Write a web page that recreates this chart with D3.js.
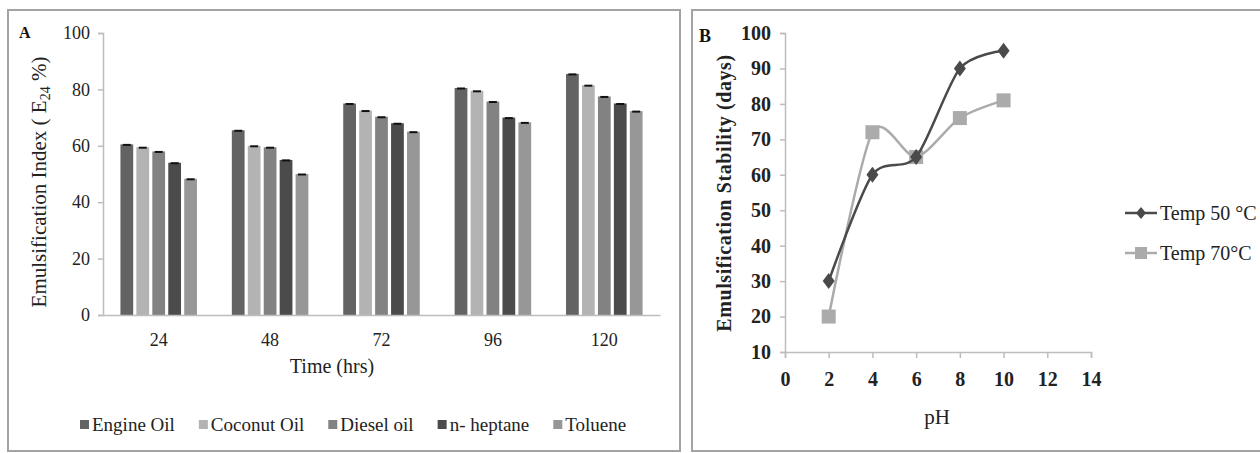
<!DOCTYPE html>
<html>
<head>
<meta charset="utf-8">
<script src="https://cdn.jsdelivr.net/npm/d3@7"></script>
<style>
  body { margin: 0; background: #fff; }
</style>
</head>
<body>
<svg id="chart" width="1260" height="453"></svg>
<script>
// panel A data: emulsification index by time
const times = ["24", "48", "72", "96", "120"];
const oils = ["Engine Oil", "Coconut Oil", "Diesel oil", "n- heptane", "Toluene"];
const engineOil = [60.5, 65.5, 75, 80.5, 85.5];
const coconutOil = [59.5, 60, 72.5, 79.5, 81.5];
const dieselOil = [58, 59.5, 70.3, 75.7, 77.5];
const heptane = [54, 55, 68, 70, 75];
const toluene = [48.3, 50, 65, 68.3, 72.3];
const ticksA = [0, 20, 40, 60, 80, 100];

// panel B data: stability vs pH
const pH = [2, 4, 6, 8, 10];
const temp50 = [30, 60, 65, 90, 95];
const temp70 = [20, 72, 65, 76, 81];
const ticksBy = [10, 20, 30, 40, 50, 60, 70, 80, 90, 100];
const ticksBx = [0, 2, 4, 6, 8, 10, 12, 14];

const FONT = "'Liberation Serif', 'DejaVu Serif', 'Times New Roman', serif";
const oilColors = ["#636363", "#b3b3b3", "#828282", "#4b4b4b", "#979797"];
const svg = d3.select("#chart").attr("font-family", FONT);

// ---------- panel A ----------
svg.append("rect")
  .attr("x", 8).attr("y", 10).attr("width", 672).attr("height", 441)
  .attr("fill", "none").attr("stroke", "#a3a3a3").attr("stroke-width", 2);

const A = {left: 103, right: 660, top: 33, bottom: 315};
const xA = d3.scaleBand().domain(times).range([A.left, A.right])
  .paddingInner(0.27).paddingOuter(0.135);
const xInner = d3.scaleBand().domain(oils).range([0, xA.bandwidth()]).padding(0.1);
const yA = d3.scaleLinear().domain([0, 100]).range([A.bottom, A.top]);

const seriesA = [engineOil, coconutOil, dieselOil, heptane, toluene];
const groups = svg.append("g").selectAll("g")
  .data(times)
  .join("g")
    .attr("transform", d => "translate(" + xA(d) + ",0)");

groups.each(function(t, ti) {
  const g = d3.select(this);
  oils.forEach((o, oi) => {
    const v = seriesA[oi][ti];
    g.append("rect")
      .attr("x", xInner(o) + 0.8)
      .attr("y", yA(v))
      .attr("width", xInner.bandwidth() - 1.6)
      .attr("height", yA(0) - yA(v))
      .attr("fill", oilColors[oi]);
    // small cap on top of every bar
    g.append("line")
      .attr("x1", xInner(o) + xInner.bandwidth() / 2 - 4)
      .attr("x2", xInner(o) + xInner.bandwidth() / 2 + 4)
      .attr("y1", yA(v) + 0.5).attr("y2", yA(v) + 0.5)
      .attr("stroke", "#111").attr("stroke-width", 2);
  });
});

// y axis A
const yAxisA = svg.append("g")
  .attr("transform", "translate(" + A.left + ",0)")
  .call(d3.axisLeft(yA).tickValues(ticksA).tickSize(5).tickPadding(8));
yAxisA.attr("font-family", FONT);
yAxisA.selectAll("text").attr("font-size", 18).attr("fill", "#222");
yAxisA.selectAll("line, path").attr("stroke", "#bdbdbd").attr("stroke-width", 1.5);

// x axis A
const xAxisA = svg.append("g")
  .attr("transform", "translate(0," + A.bottom + ")")
  .call(d3.axisBottom(xA).tickSize(0).tickPadding(18).tickSizeOuter(0));
xAxisA.attr("font-family", FONT);
xAxisA.selectAll("text").attr("font-size", 18).attr("fill", "#222");
xAxisA.select("path").attr("stroke", "#bdbdbd").attr("stroke-width", 1.5);

svg.append("text").attr("x", 332).attr("y", 373).attr("fill", "#222")
  .attr("text-anchor", "middle").attr("font-size", 20).text("Time (hrs)");

const yLabA = svg.append("text")
  .attr("transform", "translate(46,182) rotate(-90)").attr("fill", "#222")
  .attr("text-anchor", "middle").attr("font-size", 21);
yLabA.append("tspan").text("Emulsification Index ( E");
yLabA.append("tspan").attr("font-size", 14).attr("dy", 4).text("24");
yLabA.append("tspan").attr("dy", -4).text(" %)");

svg.append("text").attr("x", 19).attr("y", 38).attr("fill", "#111")
  .attr("font-size", 16).attr("font-weight", "bold").text("A");

// legend A, laid out left to right
let lx = 80;
oils.forEach((o, i) => {
  svg.append("rect").attr("x", lx).attr("y", 420).attr("width", 9).attr("height", 9)
    .attr("fill", oilColors[i]);
  const t = svg.append("text").attr("x", lx + 12).attr("y", 431).attr("fill", "#222")
    .attr("font-size", 19).text(o);
  lx += 12 + t.node().getComputedTextLength() + 24;
});

// ---------- panel B ----------
svg.append("rect")
  .attr("x", 692).attr("y", 10).attr("width", 580).attr("height", 441)
  .attr("fill", "none").attr("stroke", "#a3a3a3").attr("stroke-width", 2);

const B = {left: 785, right: 1091, top: 33, bottom: 352};
const xB = d3.scaleLinear().domain([0, 14]).range([B.left, B.right]);
const yB = d3.scaleLinear().domain([10, 100]).range([B.bottom, B.top]);

const yAxisB = svg.append("g")
  .attr("transform", "translate(" + B.left + ",0)")
  .call(d3.axisLeft(yB).tickValues(ticksBy).tickSize(5).tickPadding(9));
yAxisB.attr("font-family", FONT);
yAxisB.selectAll("text").attr("font-size", 20).attr("font-weight", "bold").attr("fill", "#222");
yAxisB.selectAll("line, path").attr("stroke", "#bdbdbd").attr("stroke-width", 1.5);

const xAxisB = svg.append("g")
  .attr("transform", "translate(0," + B.bottom + ")")
  .call(d3.axisBottom(xB).tickValues(ticksBx).tickSize(6).tickPadding(14));
xAxisB.attr("font-family", FONT);
xAxisB.selectAll("text").attr("font-size", 20).attr("font-weight", "bold").attr("fill", "#222");
xAxisB.selectAll("line, path").attr("stroke", "#bdbdbd").attr("stroke-width", 1.5);

svg.append("text").attr("x", 937).attr("y", 424).attr("fill", "#222")
  .attr("text-anchor", "middle").attr("font-size", 21).text("pH");

svg.append("text")
  .attr("transform", "translate(731,193) rotate(-90)").attr("fill", "#222")
  .attr("text-anchor", "middle").attr("font-size", 20).attr("font-weight", "bold")
  .attr("letter-spacing", 0.6)
  .text("Emulsification Stability (days)");

svg.append("text").attr("x", 699).attr("y", 42).attr("fill", "#111")
  .attr("font-size", 18).attr("font-weight", "bold").text("B");

const line = d3.line().x(d => xB(d[0])).y(d => yB(d[1])).curve(d3.curveCardinal.tension(0.2));

const seriesB = [
  {name: "Temp 50 °C", values: temp50, color: "#4a4a4a", diamond: true},
  {name: "Temp 70°C", values: temp70, color: "#ababab", diamond: false}
];

// draw light line first, dark on top near the crossing
[seriesB[1], seriesB[0]].forEach(s => {
  const pts = pH.map((p, i) => [p, s.values[i]]);
  svg.append("path").attr("d", line(pts))
    .attr("fill", "none").attr("stroke", s.color).attr("stroke-width", 2.5);
  svg.append("g").selectAll("path")
    .data(pts)
    .join("path")
      .attr("transform", d => "translate(" + xB(d[0]) + "," + yB(d[1]) + ")")
      .attr("d", s.diamond ? "M0,-8L6,0L0,8L-6,0Z" : "M-7,-7H7V7H-7Z")
      .attr("fill", s.color);
});

// legend B
seriesB.forEach((s, i) => {
  const ly = 213 + i * 40;
  svg.append("line").attr("x1", 1125).attr("x2", 1157).attr("y1", ly).attr("y2", ly)
    .attr("stroke", s.color).attr("stroke-width", 2.5);
  svg.append("path")
    .attr("transform", "translate(1141," + ly + ")")
    .attr("d", s.diamond ? "M0,-6L5,0L0,6L-5,0Z" : "M-6,-6H6V6H-6Z")
    .attr("fill", s.color);
  svg.append("text").attr("x", 1160).attr("y", ly + 7).attr("fill", "#222")
    .attr("font-size", 20).text(s.name);
});
</script>
</body>
</html>
